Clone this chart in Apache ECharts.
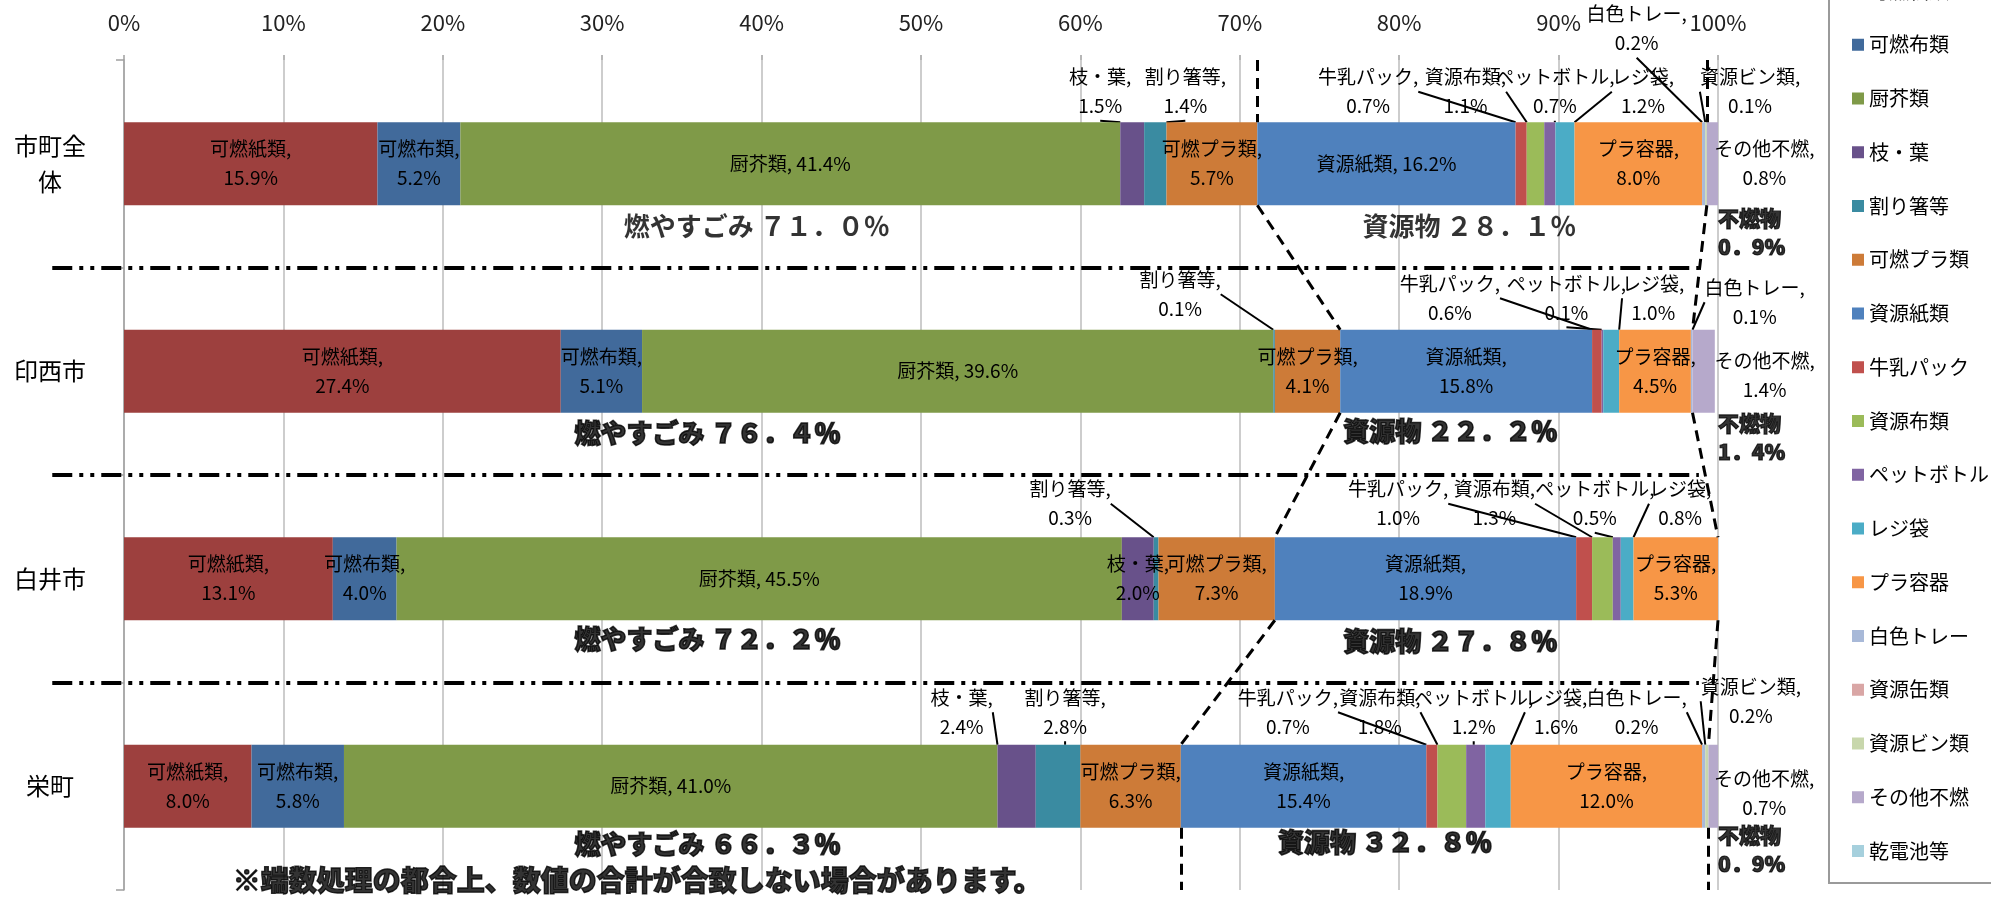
<!DOCTYPE html>
<html lang="ja">
<head>
<meta charset="utf-8">
<title>ごみ組成割合</title>
<script src="https://cdn.jsdelivr.net/npm/echarts@6/dist/echarts.min.js"></script>
<style>
  html, body { margin: 0; padding: 0; background: #ffffff; }
  #chart { width: 1991px; height: 901px; }
</style>
</head>
<body>
<div id="chart"></div>
<script>
// ---- data (percent of total waste) ----
const categories = ['市町全体', '印西市', '白井市', '栄町'];
const categoryLabels = ['市町全\n体', '印西市', '白井市', '栄町'];
const itemNames = ['可燃紙類', '可燃布類', '厨芥類', '枝・葉', '割り箸等', '可燃プラ類',
  '資源紙類', '牛乳パック', '資源布類', 'ペットボトル', 'レジ袋', 'プラ容器', '白色トレー',
  '資源缶類', '資源ビン類', 'その他不燃', '乾電池等'];
const itemColors = ['#9D403E', '#416A9B', '#7F9A48', '#68518A', '#3A8BA1', '#CD7B38',
  '#4F81BD', '#C0504D', '#9BBB59', '#8064A2', '#4BACC6', '#F79646', '#A8B9D8',
  '#D9A6A5', '#C8D7AC', '#B6A9CB', '#A6D0DD'];

const allTowns = [15.9, 5.2, 41.4, 1.5, 1.4, 5.7, 16.2, 0.7, 1.1, 0.7, 1.2, 8.0, 0.2, 0, 0.1, 0.8, 0];
const inzai    = [27.4, 5.1, 39.6, 0, 0.1, 4.1, 15.8, 0.6, 0, 0.1, 1.0, 4.5, 0.1, 0, 0, 1.4, 0];
const shiroi   = [13.1, 4.0, 45.5, 2.0, 0.3, 7.3, 18.9, 1.0, 1.3, 0.5, 0.8, 5.3, 0, 0, 0, 0, 0];
const sakae    = [8.0, 5.8, 41.0, 2.4, 2.8, 6.3, 15.4, 0.7, 1.8, 1.2, 1.6, 12.0, 0.2, 0, 0.2, 0.7, 0];

const burnableTotals    = ['71.0', '76.4', '72.2', '66.3'];
const resourceTotals    = ['28.1', '22.2', '27.8', '32.8'];
const nonBurnableTotals = ['0.9', '1.4', null, '0.9'];

const xTickValues = [0, 10, 20, 30, 40, 50, 60, 70, 80, 90, 100];

// item index ranges of each group
const BURN_COUNT = 6;       // 可燃紙類 .. 可燃プラ類
const RESOURCE_END = 15;    // 資源紙類 .. 資源ビン類

// ---- label placement ----
// 'in'  : centred on the segment, two lines
// 'in1' : centred on the segment, one line
// [dx, dy]          : moved from the segment centre, with a leader line
// ['side', dx, dy]  : moved beside the bar, no leader line
const PLACE = [
  ['in', 'in', 'in1', [-32, -72], [30, -72], 'in', 'in1', [-153, -72], [-70, -72], [5, -72], [78, -72], 'in',
   [-67, -135], null, [44, -72], ['side', 52, 0], null],
  ['in', 'in', 'in1', null, [-94, -77], 'in', 'in', [-147, -73], null, [-36, -73], [42, -73], 'in',
   [63, -69], null, null, ['side', 61, 4], null],
  ['in', 'in', 'in1', 'in', [-86, -75], 'in', 'in', [-186, -75], [-108, -75], [-22, -75], [53, -75], 'in',
   null, null, null, null, null],
  ['in', 'in', 'in1', [-55, -74], [7, -74], 'in', 'in', [-144, -74], [-72, -74], [-2, -74], [58, -74], 'in',
   [-67, -74], null, [44, -85], ['side', 51, 7], null]
];

// anchors of the group summaries, in axis units (x: %, y: rows 0..4)
const burnAnchor     = [[39.7, 0.80], [36.6, 1.80], [36.6, 2.79], [36.6, 3.78]];
const resourceAnchor = [[84.4, 0.80], [83.2, 1.79], [83.2, 2.80], [79.1, 3.77]];
const nonBurnAnchor  = [[100, 0.833], [100, 1.82], null, [100, 3.807]];

const FONT = '"Liberation Sans Narrow", "Noto Sans CJK JP", "Noto Sans", sans-serif';
const FONT_JP = '"Noto Sans CJK JP", "Noto Sans", sans-serif';

const towns = [allTowns, inzai, shiroi, sakae];

function sum(arr, from, to) {
  let s = 0;
  for (let i = from; i < to; i++) s += arr[i];
  return Math.round(s * 10) / 10;
}
function fullWidth(s) {
  return s.replace(/[0-9.%]/g, c => String.fromCharCode(c.charCodeAt(0) + 0xFEE0));
}

// ---- stacked bar series ----
const barSeries = itemNames.map((name, s) => ({
  name: name,
  type: 'bar',
  stack: 'total',
  barWidth: '40%',
  xAxisIndex: 0,
  yAxisIndex: 0,
  itemStyle: { color: itemColors[s] },
  label: {
    show: false,
    position: 'inside',
    color: '#000',
    fontSize: 19,
    lineHeight: 29,
    fontFamily: FONT,
    textBorderWidth: 0
  },
  labelLayout: function (p) {
    const spec = PLACE[p.dataIndex][p.seriesIndex];
    if (!Array.isArray(spec)) return {};
    const off = spec[0] === 'side' ? spec.slice(1) : spec;
    return {
      x: p.rect.x + p.rect.width / 2 + off[0],
      y: p.rect.y + p.rect.height / 2 + off[1],
      align: 'center',
      verticalAlign: 'middle'
    };
  },
  data: towns.map((t, i) => {
    const v = t[s];
    const spec = PLACE[i][s];
    const shown = v > 0 && spec != null;
    const txt = spec === 'in1' ? name + ', ' + v.toFixed(1) + '%' : name + ',\n' + v.toFixed(1) + '%';
    return {
      value: v,
      label: { show: shown, formatter: txt },
      labelLine: {
        show: shown && Array.isArray(spec) && spec[0] !== 'side',
        length2: 0,
        lineStyle: { color: '#000', width: 2 }
      }
    };
  })
}));

// ---- dashed connectors along the group boundaries ----
const burnEnd = towns.map(t => sum(t, 0, BURN_COUNT));
const resourceEnd = towns.map(t => sum(t, 0, RESOURCE_END));
const HALF = 0.2; // half of the bar thickness in row units

function connector(ends) {
  const segs = [{ coords: [[ends[0], 0], [ends[0], 0.5 - HALF]] }];
  for (let i = 0; i < ends.length - 1; i++) {
    segs.push({ coords: [[ends[i], i + 0.5 + HALF], [ends[i + 1], i + 1.5 - HALF]] });
  }
  const n = ends.length - 1;
  segs.push({ coords: [[ends[n], n + 0.5 + HALF], [ends[n], n + 1]] });
  return segs;
}

const connectorSeries = {
  type: 'lines',
  coordinateSystem: 'cartesian2d',
  xAxisIndex: 0,
  yAxisIndex: 1,
  clip: false,
  silent: true,
  z: 5,
  lineStyle: { color: '#000', width: 3, type: [11, 7], opacity: 1, curveness: 0 },
  data: connector(burnEnd).concat(connector(resourceEnd))
};

// ---- dash-dot separators between the rows ----
const separatorSeries = {
  type: 'lines',
  coordinateSystem: 'cartesian2d',
  xAxisIndex: 0,
  yAxisIndex: 1,
  clip: false,
  silent: true,
  z: 5,
  lineStyle: { color: '#000', width: 4, type: [20, 7, 4, 7, 4, 7], opacity: 1, curveness: 0 },
  data: [1, 2, 3].map(k => ({ coords: [[-4.5, k], [98.8, k]] }))
};

// ---- group summary texts ----
function summaryItem(pos, text, opts) {
  return {
    value: pos,
    label: Object.assign({
      show: true,
      position: 'inside',
      formatter: text,
      color: '#000',
      fontFamily: FONT_JP,
      fontSize: 26,
      fontWeight: 900,
      textBorderColor: '#000',
      textBorderWidth: 1.6,
      align: 'center',
      verticalAlign: 'middle'
    }, opts || {})
  };
}

const summaryData = [];
categories.forEach((c, i) => {
  const weight = i === 0 ? { fontWeight: 'bold', textBorderWidth: 0 } : {};
  summaryData.push(summaryItem(burnAnchor[i], '燃やすごみ ' + fullWidth(burnableTotals[i] + '%'), weight));
  summaryData.push(summaryItem(resourceAnchor[i], '資源物 ' + fullWidth(resourceTotals[i] + '%'), weight));
  if (nonBurnableTotals[i] != null) {
    summaryData.push(summaryItem(nonBurnAnchor[i],
      '不燃物\n' + nonBurnableTotals[i].replace('.', '．') + '%',
      { align: 'left', fontSize: 21, lineHeight: 29, textBorderWidth: 1.2 }));
  }
});
summaryData.push(summaryItem([32.2, 3.952], '※端数処理の都合上、数値の合計が合致しない場合があります。',
  { fontSize: 28, textBorderWidth: 1.4 }));

const summarySeries = {
  type: 'scatter',
  xAxisIndex: 0,
  yAxisIndex: 1,
  clip: false,
  silent: true,
  symbolSize: 1,
  itemStyle: { color: 'rgba(0,0,0,0)' },
  z: 6,
  data: summaryData
};

const chart = echarts.init(document.getElementById('chart'), null, { renderer: 'canvas' });
chart.setOption({
  animation: false,
  backgroundColor: '#ffffff',
  grid: { left: 124, right: 273, top: 60, bottom: 11, containLabel: false },
  legend: {
    orient: 'vertical',
    left: 1829,
    top: -39,
    padding: [20, 40, 22, 23],
    itemWidth: 12,
    itemHeight: 12,
    itemGap: 33.75,
    icon: 'rect',
    selectedMode: false,
    borderColor: '#9a9a9a',
    borderWidth: 2,
    textStyle: { fontSize: 20, lineHeight: 20, color: '#000', fontFamily: FONT_JP },
    data: itemNames
  },
  xAxis: [{
    type: 'value',
    position: 'top',
    min: xTickValues[0],
    max: xTickValues[xTickValues.length - 1],
    interval: xTickValues[1] - xTickValues[0],
    axisLine: { show: false },
    axisTick: { show: true, length: 5, lineStyle: { color: '#a0a0a0', width: 1.5 } },
    axisLabel: { formatter: '{value}%', fontSize: 22, color: '#222', margin: 26, fontFamily: FONT },
    splitLine: { show: true, lineStyle: { color: '#bdbdbd', width: 1.5 } }
  }],
  yAxis: [{
    type: 'category',
    data: categories,
    inverse: true,
    axisLine: { show: true, lineStyle: { color: '#a0a0a0', width: 1.5 } },
    axisTick: { show: true, length: 8, lineStyle: { color: '#a0a0a0', width: 1.5 } },
    axisLabel: {
      formatter: (v, i) => categoryLabels[i],
      fontSize: 24,
      lineHeight: 36,
      color: '#000',
      margin: 74,
      align: 'center',
      fontFamily: FONT_JP
    },
    splitLine: { show: false }
  }, {
    type: 'value',
    min: 0,
    max: categories.length,
    inverse: true,
    show: false
  }],
  series: barSeries.concat([connectorSeries, separatorSeries, summarySeries])
});
</script>
</body>
</html>
